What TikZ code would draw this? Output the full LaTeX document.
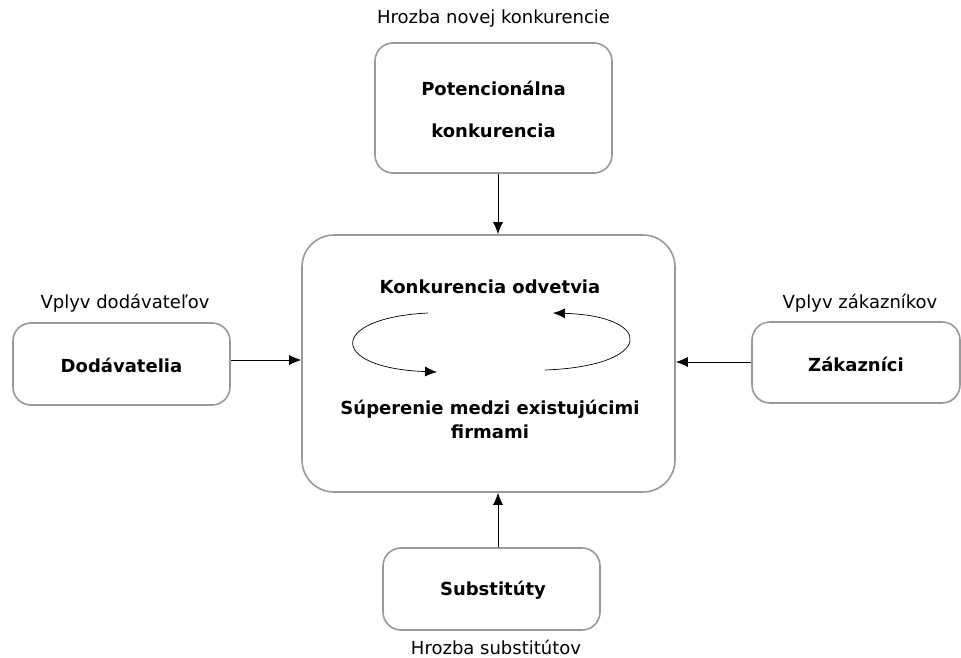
\documentclass[tikz,border=0pt]{standalone}
\usepackage{fontspec}
\setmainfont{DejaVu Sans}
\usetikzlibrary{arrows.meta}
\tikzset{
	force/.style={draw=black!40,line width=1.6,rounded corners=18,fill=white,inner sep=0},
	conn/.style={line width=0.8,-{Latex[length=12,width=10]}},
	lbl/.style={font=\fontsize{18}{21}\selectfont,inner sep=0},
	bold/.style={font=\fontsize{18}{24}\selectfont\bfseries,inner sep=0,align=center}
}
\begin{document}
\begin{tikzpicture}[x=1pt,y=-1pt]
		\useasboundingbox (0,0) rectangle (961,658);
		% boxes
		\node[force,minimum width=237,minimum height=130] (pot) at (493.5,108) {};
		\node[force,rounded corners=32,minimum width=373,minimum height=257] (odv) at (488.5,363.5) {};
		\node[force,minimum width=217,minimum height=82] (dod) at (121.5,364) {};
		\node[force,minimum width=208,minimum height=81] (zak) at (856,362.5) {};
		\node[force,minimum width=217,minimum height=82] (sub) at (491.5,589) {};
		% texts in boxes
		\node[bold,font=\fontsize{18}{42}\selectfont\bfseries] (potT) at (493.5,109) {Potencionálna\\konkurencia};
		\node[bold] (odvT) at (490,287) {Konkurencia odvetvia};
		\node[bold] (supT) at (490,419) {Súperenie medzi existujúcimi\\firmami};
		\node[bold] (dodT) at (121.5,365) {Dodávatelia};
		\node[bold] (zakT) at (856,364) {Zákazníci};
		\node[bold] (subT) at (493,590) {Substitúty};
		% labels
		\node[lbl] (potL) at (493.5,19) {Hrozba novej konkurencie};
		\node[lbl] (dodL) at (125,303) {Vplyv dodávateľov};
		\node[lbl] (zakL) at (860,303) {Vplyv zákazníkov};
		\node[lbl] (subL) at (496,647) {Hrozba substitútov};
		% connectors
		\coordinate (ax) at (498,0);
		\draw[conn] (pot.south -| ax) to (odv.north -| ax);
		\draw[conn] (sub.north -| ax) to (odv.south -| ax);
		\draw[conn] (dod.east |- 0,360) to (odv.west |- 0,360);
		\draw[conn] (zak.west |- 0,362) to (odv.east |- 0,362);
		% rivalry cycle
		\draw[conn,line width=0.7] (428,313) .. controls (328,318) and (328,368) .. (437,372);
		\draw[conn,line width=0.7] (545,370) .. controls (655,366) and (655,316) .. (553,313);
	\end{tikzpicture}
\end{document}
